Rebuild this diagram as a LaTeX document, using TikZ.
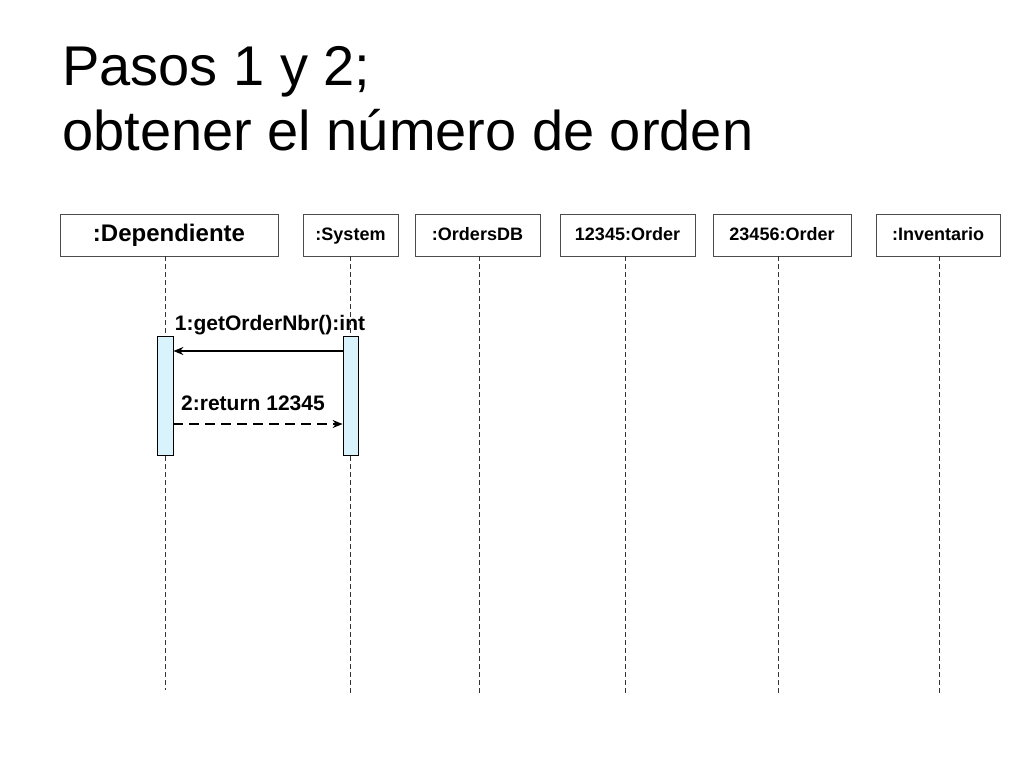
\documentclass[tikz,border=0pt]{standalone}
\usepackage{fontspec}
\setmainfont{Liberation Sans}
\usetikzlibrary{arrows.meta}
\begin{document}
\begin{tikzpicture}[x=1pt,y=-1pt,
  obj/.style={draw=black!70,fill=white,minimum height=42pt,inner sep=0pt,text height=13pt,text depth=3pt,font=\bfseries\fontsize{18}{18}\selectfont},
  life/.style={dashed,black!80,dash pattern=on 5pt off 3pt},
  act/.style={draw=black,fill=cyan!15!white,line width=0.8pt},
  msg/.style={font=\bfseries\fontsize{21}{21}\selectfont}]
\useasboundingbox (0,0) rectangle (1024,768);
\node[anchor=base west,font=\fontsize{56}{65}\selectfont,inner sep=0pt] (title1) at (62,85) {Pasos 1 y 2;};
\node[anchor=base west,font=\fontsize{56}{65}\selectfont,inner sep=0pt] (title2) at (62,150) {obtener el número de orden};
\node[obj,minimum width=218pt,text height=17pt,text depth=4pt,font=\bfseries\fontsize{24}{24}\selectfont] (dep) at (169,235) {:Dependiente};
\node[obj,minimum width=95pt] (sys) at (350.5,235) {:System};
\node[obj,minimum width=125pt] (odb) at (477.5,235) {:OrdersDB};
\node[obj,minimum width=135pt] (o1) at (627.5,235) {12345:Order};
\node[obj,minimum width=138pt] (o2) at (782,235) {23456:Order};
\node[obj,minimum width=124pt] (inv) at (938,235) {:Inventario};
\coordinate (e1) at (165,690); \coordinate (e2) at (350,695);
\coordinate (e3) at (479,695); \coordinate (e4) at (625,695);
\coordinate (e5) at (778,695); \coordinate (e6) at (939,695);
\draw[life] (165,256) -- (e1);
\draw[life] (350,256) -- (e2);
\draw[life] (479,256) -- (e3);
\draw[life] (625,256) -- (e4);
\draw[life] (778,256) -- (e5);
\draw[life] (939,256) -- (e6);
\node[act,minimum width=16pt,minimum height=119pt,inner sep=0pt] (a1) at (165,395.5) {};
\node[act,minimum width=15pt,minimum height=119pt,inner sep=0pt] (a2) at (350.5,395.5) {};
\draw[-{Stealth[length=10pt,width=8pt]},line width=1.3pt] (a2.west |- 0,351) -- (a1.east |- 0,351);
\draw[-{Stealth[length=10pt,width=8pt]},line width=1.3pt,dash pattern=on 10pt off 6pt] (a1.east |- 0,424) -- (a2.west |- 0,424);
\node[msg] (m1) at (270,325) {1:getOrderNbr():int};
\node[msg] (m2) at (253,403) {2:return 12345};
\end{tikzpicture}
\end{document}
